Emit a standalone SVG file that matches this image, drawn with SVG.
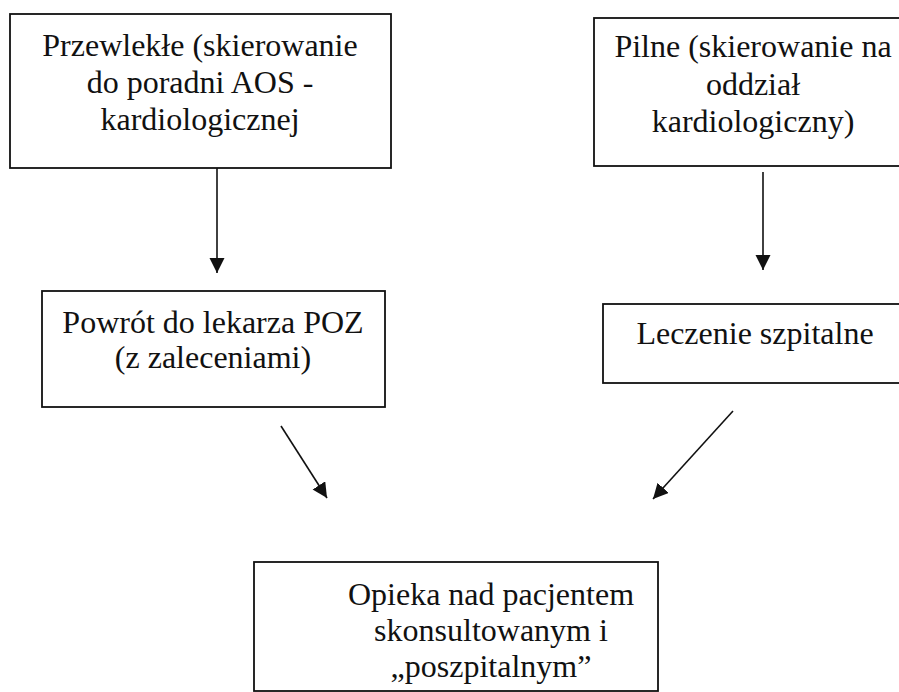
<svg xmlns="http://www.w3.org/2000/svg" width="899" height="692" viewBox="0 0 899 692">
<style>
.box{fill:#fff;stroke:#111;stroke-width:1.8}
.t{font-family:"Liberation Serif","Times New Roman",serif;font-size:32px;fill:#111;text-anchor:middle}
.c{stroke:#111;stroke-width:1.6;fill:none;marker-end:url(#ah)}
</style>
<defs>
<marker id="ah" markerUnits="userSpaceOnUse" markerWidth="16" markerHeight="16" refX="15" refY="7.5" orient="auto">
<path d="M0,0 L15,7.5 L0,15 Z" fill="#111"/>
</marker>
</defs>
<rect width="899" height="692" fill="#fff"/>
<g id="connectors">
<line class="c" x1="217" y1="168" x2="217" y2="273"/>
<line class="c" x1="763" y1="172" x2="763" y2="270"/>
<line class="c" x1="281" y1="426" x2="327" y2="498"/>
<line class="c" x1="733" y1="411" x2="653" y2="499"/>
</g>
<g id="node-przewlekle">
<rect class="box" x="10" y="14" width="381" height="154"/>
<text class="t" x="200" y="56">Przewlekłe (skierowanie</text>
<text class="t" x="200" y="93">do poradni AOS -</text>
<text class="t" x="200" y="130">kardiologicznej</text>
</g>
<g id="node-pilne">
<rect class="box" x="594" y="18" width="320" height="148"/>
<text class="t" x="753" y="57">Pilne (skierowanie na</text>
<text class="t" x="753" y="95">oddział</text>
<text class="t" x="753" y="132">kardiologiczny)</text>
</g>
<g id="node-powrot">
<rect class="box" x="42" y="291" width="343" height="116"/>
<text class="t" x="213" y="333">Powrót do lekarza POZ</text>
<text class="t" x="213" y="368">(z zaleceniami)</text>
</g>
<g id="node-leczenie">
<rect class="box" x="603" y="304" width="310" height="79"/>
<text class="t" x="755" y="344">Leczenie szpitalne</text>
</g>
<g id="node-opieka">
<rect class="box" x="254" y="562" width="404" height="129"/>
<text class="t" x="491" y="605">Opieka nad pacjentem</text>
<text class="t" x="491" y="641">skonsultowanym i</text>
<text class="t" x="491" y="677">„poszpitalnym”</text>
</g>
</svg>
